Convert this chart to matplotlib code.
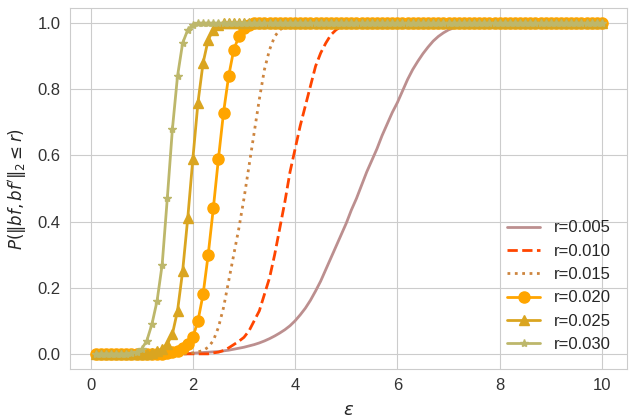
import matplotlib
matplotlib.use('Agg')
import matplotlib.pyplot as plt
import numpy as np
import seaborn as sns

# epsilon grid, 0.1 .. 10.0
eps = np.round(np.arange(1, 101) * 0.1, 1)

radii = ['0.005', '0.010', '0.015', '0.020', '0.025', '0.030']

# (first x of the rising part, values); zeros before, ones after
rise_005 = (1.9, [0.001, 0.002, 0.003, 0.004, 0.005, 0.006, 0.007, 0.009, 0.011, 0.014,
                  0.017, 0.020, 0.024, 0.028, 0.033, 0.039, 0.046, 0.054, 0.063, 0.073,
                  0.085, 0.10, 0.118, 0.138, 0.162, 0.19, 0.22, 0.255, 0.29, 0.325,
                  0.36, 0.395, 0.435, 0.47, 0.51, 0.55, 0.585, 0.62, 0.66, 0.695,
                  0.73, 0.76, 0.795, 0.83, 0.86, 0.885, 0.908, 0.928, 0.946, 0.96,
                  0.971, 0.98, 0.986, 0.991, 0.994, 0.996, 0.998, 0.999])
rise_010 = (2.4, [0.003, 0.005, 0.01, 0.018, 0.028, 0.038, 0.05, 0.07, 0.10, 0.13,
                  0.18, 0.23, 0.30, 0.38, 0.46, 0.55, 0.62, 0.69, 0.75, 0.81,
                  0.87, 0.91, 0.94, 0.965, 0.98, 0.99, 0.995, 0.998])
rise_015 = (2.0, [0.003, 0.006, 0.01, 0.02, 0.04, 0.08, 0.14, 0.22, 0.30, 0.38,
                  0.47, 0.57, 0.67, 0.77, 0.86, 0.92, 0.96, 0.98, 0.99, 0.997])
rise_020 = (1.5, [0.002, 0.005, 0.01, 0.018, 0.03, 0.05, 0.10, 0.18, 0.30, 0.44,
                  0.59, 0.73, 0.84, 0.92, 0.96, 0.985, 0.995])
rise_025 = (1.2, [0.004, 0.008, 0.015, 0.03, 0.06, 0.13, 0.25, 0.41, 0.59, 0.76,
                  0.88, 0.95, 0.98, 0.995])
rise_030 = (0.8, [0.002, 0.005, 0.015, 0.04, 0.09, 0.16, 0.27, 0.47, 0.68, 0.84,
                  0.94, 0.98, 0.995])

colors = ['rosybrown', 'orangered', 'peru', 'orange', 'goldenrod', 'darkkhaki']
styles = ['-', '--', ':', '-', '-', '-']
markers = [None, None, None, 'o', '^', '*']
msizes = [0, 0, 0, 8, 7, 6]


def full_curve(rise):
	start, vals = rise
	i0 = int(round(start * 10)) - 1
	y = np.ones(len(eps))
	y[:i0] = 0.0
	y[i0:i0 + len(vals)] = vals
	return y


sns.set_style('whitegrid')
plt.rcParams['font.family'] = ['Liberation Sans', 'DejaVu Sans']

fig, ax = plt.subplots(figsize=(6.4, 4.19), dpi=100)
rises = [rise_005, rise_010, rise_015, rise_020, rise_025, rise_030]
for r, rise, c, ls, m, ms in zip(radii, rises, colors, styles, markers, msizes):
	ax.plot(eps, full_curve(rise), color=c, linestyle=ls, marker=m, markersize=ms,
			linewidth=2, label=f'r={r}')

ax.set_xlabel(r'$\epsilon$', fontsize=13, labelpad=6)
ax.set_ylabel(r"$P(\|bf, bf'\|_2 \leq r)$", fontsize=12, labelpad=6)
ax.tick_params(labelsize=12, colors='#333333')
ax.set_ylim(-0.045, 1.045)
ax.legend(loc='lower right', frameon=False, fontsize=12, labelspacing=0.5,
		  borderaxespad=0.6)
for s in ax.spines.values():
	s.set_color('#cccccc')

plt.subplots_adjust(left=0.11, right=0.98, top=0.98, bottom=0.12)
plt.savefig('out.png')
plt.close()
